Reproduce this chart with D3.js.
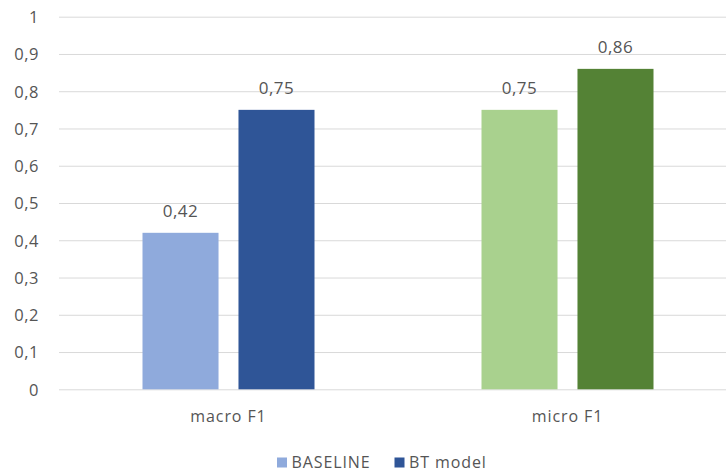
<!DOCTYPE html>
<html>
<head>
<meta charset="utf-8">
<script src="https://cdn.jsdelivr.net/npm/d3@7"></script>
<style>
  html, body { margin: 0; padding: 0; background: #ffffff; }
  svg { display: block; }
  text { font-family: "Open Sans", "Noto Sans", sans-serif; fill: #555555; }
</style>
</head>
<body>
<svg id="chart" width="726" height="471"></svg>
<script>
// Metric groups and the two models compared
const categories = ["macro F1", "micro F1"];
const seriesNames = ["BASELINE", "BT model"];
const baselineValues = [0.42, 0.75];
const btModelValues = [0.75, 0.86];
const yTicks = [0, 0.1, 0.2, 0.3, 0.4, 0.5, 0.6, 0.7, 0.8, 0.9, 1];

// Each metric group has its own light/dark colour pair
const barColors = [
  ["#8FAADC", "#2F5597"],
  ["#A9D18E", "#548235"]
];
const legendColors = ["#8FAADC", "#2F5597"];

const svg = d3.select("#chart");
const W = 726, H = 471;
const plot = { left: 59, right: 737, top: 16.7, bottom: 389.3 };

const fmt = v => String(v).replace(".", ",");

const y = d3.scaleLinear().domain([0, 1]).range([plot.bottom, plot.top]);
const x0 = d3.scaleBand().domain(categories).range([plot.left, plot.right]).paddingInner(0).paddingOuter(0);
const groupW = 172;
const x1 = d3.scaleBand().domain(seriesNames).range([0, groupW]).paddingInner(0.208).paddingOuter(0);

// Horizontal gridlines and y tick labels
const yAxis = d3.axisLeft(y).tickValues(yTicks).tickFormat(fmt).tickSize(-(W - plot.left)).tickPadding(20);
const gy = svg.append("g").attr("transform", `translate(${plot.left},0)`).call(yAxis);
gy.select(".domain").remove();
gy.selectAll(".tick line").attr("stroke", "#d9d9d9").attr("stroke-width", 1);
gy.selectAll(".tick text").style("font-size", "16.5px").style("letter-spacing", "0.5px")
  .attr("fill", "#555555").attr("dy", "0.36em");

// Bars
const rows = [];
categories.forEach((c, i) => {
  rows.push({ cat: c, ci: i, series: seriesNames[0], si: 0, value: baselineValues[i] });
  rows.push({ cat: c, ci: i, series: seriesNames[1], si: 1, value: btModelValues[i] });
});

const groupX = c => x0(c) + (x0.bandwidth() - groupW) / 2;

svg.append("g").selectAll("rect").data(rows).join("rect")
  .attr("x", d => groupX(d.cat) + x1(d.series))
  .attr("y", d => y(d.value))
  .attr("width", x1.bandwidth())
  .attr("height", d => y(0) - y(d.value))
  .attr("fill", d => barColors[d.ci][d.si]);

// Value labels above each bar
svg.append("g").selectAll("text").data(rows).join("text")
  .attr("x", d => groupX(d.cat) + x1(d.series) + x1.bandwidth() / 2)
  .attr("y", d => y(d.value) - 16)
  .attr("text-anchor", "middle")
  .style("font-size", "17px")
  .style("letter-spacing", "0.5px")
  .text(d => fmt(d.value));

// Category labels
svg.append("g").selectAll("text").data(categories).join("text")
  .attr("x", d => x0(d) + x0.bandwidth() / 2)
  .attr("y", 422)
  .attr("text-anchor", "middle")
  .style("font-size", "16px")
  .style("letter-spacing", "0.9px")
  .text(d => d);

// Legend
const legend = svg.append("g");
const legendItems = [
  { name: seriesNames[0], color: legendColors[0], x: 277 },
  { name: seriesNames[1], color: legendColors[1], x: 394.5 }
];
legendItems.forEach(it => {
  legend.append("rect").attr("x", it.x).attr("y", 457.5).attr("width", 10).attr("height", 10).attr("fill", it.color);
  legend.append("text").attr("x", it.x + 14.5).attr("y", 467.5)
    .style("font-size", "16px").style("letter-spacing", "0.9px").text(it.name);
});
</script>
</body>
</html>
